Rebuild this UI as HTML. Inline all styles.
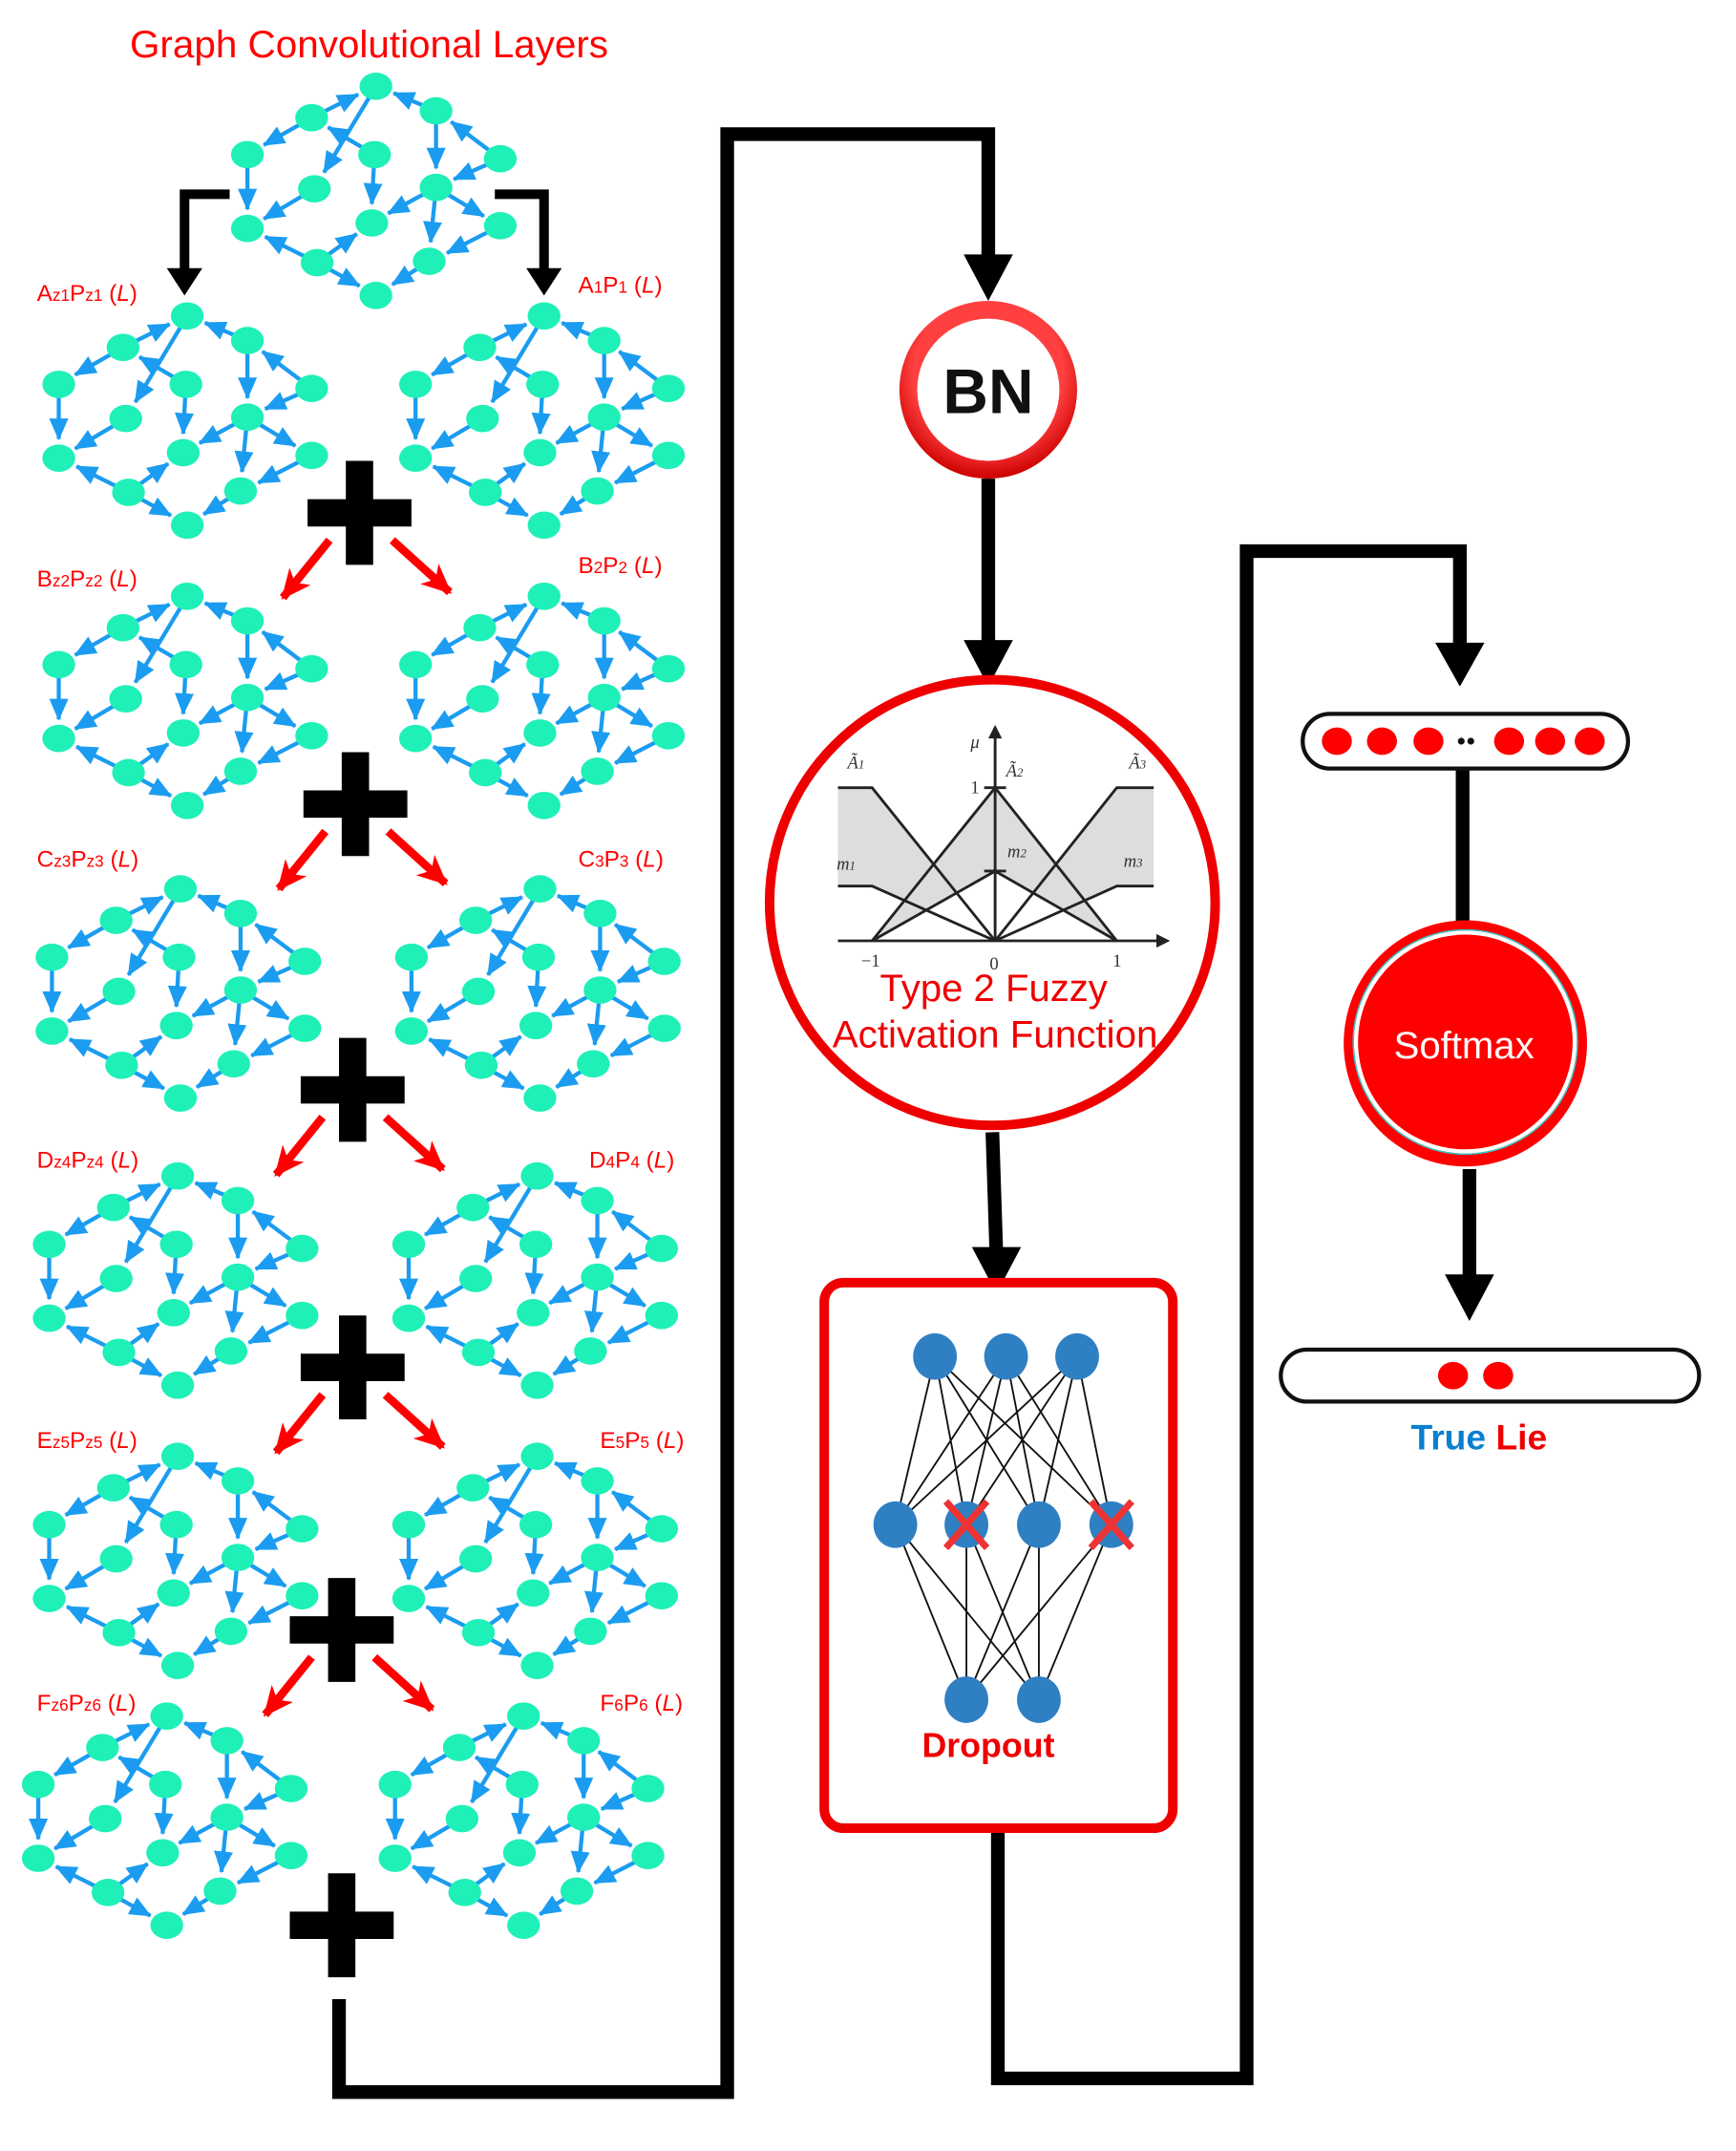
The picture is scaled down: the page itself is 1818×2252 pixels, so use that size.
<!DOCTYPE html>
<html><head><meta charset="utf-8"><style>html,body{margin:0;padding:0;background:#fff}svg{display:block}</style></head>
<body>
<svg width="1818" height="2252" viewBox="0 0 1270 1573" xmlns="http://www.w3.org/2000/svg" font-family="Liberation Sans, Arial, sans-serif">
<defs>
<marker id="ba" markerUnits="userSpaceOnUse" markerWidth="16" markerHeight="14" refX="15" refY="7" orient="auto"><path d="M0,0 L16,7 L0,14 Z" fill="#1b9cf0"/></marker>
<marker id="ra" markerUnits="userSpaceOnUse" markerWidth="22" markerHeight="20" refX="20" refY="10" orient="auto"><path d="M0,0 L22,10 L0,20 L6,10 Z" fill="#f00"/></marker>
<radialGradient id="bng" cx="0.5" cy="0.4" r="0.6"><stop offset="0.7" stop-color="#ff4040"/><stop offset="1" stop-color="#c00"/></radialGradient>
<g id="g">
<g stroke="#1b9cf0" stroke-width="3" marker-end="url(#ba)" fill="none">
<line x1="-47" y1="-54" x2="-13" y2="-71"/>
<line x1="-47" y1="-54" x2="-82" y2="-34"/>
<line x1="0" y1="-77" x2="-38" y2="-14"/>
<line x1="-1" y1="-27" x2="-35" y2="-47"/>
<line x1="44" y1="-59" x2="13" y2="-72"/>
<line x1="44" y1="-59" x2="44" y2="-17"/>
<line x1="91" y1="-24" x2="55" y2="-51"/>
<line x1="91" y1="-24" x2="57" y2="-9"/>
<line x1="-94" y1="-27" x2="-94" y2="13"/>
<line x1="-1" y1="-27" x2="-3" y2="9"/>
<line x1="-45" y1="-2" x2="-82" y2="20"/>
<line x1="44" y1="-3" x2="9" y2="16"/>
<line x1="44" y1="-3" x2="79" y2="18"/>
<line x1="44" y1="-3" x2="40" y2="37"/>
<line x1="91" y1="25" x2="52" y2="45"/>
<line x1="-43" y1="52" x2="-81" y2="33"/>
<line x1="-43" y1="52" x2="-14" y2="31"/>
<line x1="-43" y1="52" x2="-12" y2="69"/>
<line x1="39" y1="51" x2="12" y2="68"/>
</g>
<g fill="#1ef0b8">
<ellipse cx="0" cy="-77" rx="12" ry="10"/><ellipse cx="-47" cy="-54" rx="12" ry="10"/><ellipse cx="44" cy="-59" rx="12" ry="10"/>
<ellipse cx="-94" cy="-27" rx="12" ry="10"/><ellipse cx="-1" cy="-27" rx="12" ry="10"/><ellipse cx="91" cy="-24" rx="12" ry="10"/>
<ellipse cx="-45" cy="-2" rx="12" ry="10"/><ellipse cx="44" cy="-3" rx="12" ry="10"/><ellipse cx="-94" cy="27" rx="12" ry="10"/>
<ellipse cx="-3" cy="23" rx="12" ry="10"/><ellipse cx="91" cy="25" rx="12" ry="10"/><ellipse cx="-43" cy="52" rx="12" ry="10"/>
<ellipse cx="39" cy="51" rx="12" ry="10"/><ellipse cx="0" cy="76" rx="12" ry="10"/>
</g>
</g>
<path id="plus" d="M-10,-38 H10 V-10 H38 V10 H10 V38 H-10 V10 H-38 V-10 H-10 Z" fill="#000"/>
<g id="rar" stroke="#f00" stroke-width="6" marker-end="url(#ra)"><line x1="-22" y1="20" x2="-56" y2="62"/><line x1="24" y1="20" x2="66" y2="58"/></g>
</defs>

<text x="270" y="42" font-size="28" fill="#f00" text-anchor="middle" textLength="350" lengthAdjust="spacingAndGlyphs">Graph Convolutional Layers</text>
<use href="#g" x="275" y="140"/>
<path d="M168,142 H135 V200" stroke="#000" stroke-width="7" fill="none"/>
<path d="M122,196 L148,196 L135,216 Z" fill="#000"/>
<path d="M362,142 H398 V200" stroke="#000" stroke-width="7" fill="none"/>
<path d="M385,196 L411,196 L398,216 Z" fill="#000"/>

<g font-size="17" fill="#f00">
<text x="27" y="220">A<tspan font-size="12">z1</tspan>P<tspan font-size="12">z1</tspan> (<tspan font-style="italic">L</tspan>)</text>
<text x="423" y="214">A<tspan font-size="12">1</tspan>P<tspan font-size="12">1</tspan> (<tspan font-style="italic">L</tspan>)</text>
<text x="27" y="429">B<tspan font-size="12">z2</tspan>P<tspan font-size="12">z2</tspan> (<tspan font-style="italic">L</tspan>)</text>
<text x="423" y="419">B<tspan font-size="12">2</tspan>P<tspan font-size="12">2</tspan> (<tspan font-style="italic">L</tspan>)</text>
<text x="27" y="634">C<tspan font-size="12">z3</tspan>P<tspan font-size="12">z3</tspan> (<tspan font-style="italic">L</tspan>)</text>
<text x="423" y="634">C<tspan font-size="12">3</tspan>P<tspan font-size="12">3</tspan> (<tspan font-style="italic">L</tspan>)</text>
<text x="27" y="854">D<tspan font-size="12">z4</tspan>P<tspan font-size="12">z4</tspan> (<tspan font-style="italic">L</tspan>)</text>
<text x="431" y="854">D<tspan font-size="12">4</tspan>P<tspan font-size="12">4</tspan> (<tspan font-style="italic">L</tspan>)</text>
<text x="27" y="1059">E<tspan font-size="12">z5</tspan>P<tspan font-size="12">z5</tspan> (<tspan font-style="italic">L</tspan>)</text>
<text x="439" y="1059">E<tspan font-size="12">5</tspan>P<tspan font-size="12">5</tspan> (<tspan font-style="italic">L</tspan>)</text>
<text x="27" y="1251">F<tspan font-size="12">z6</tspan>P<tspan font-size="12">z6</tspan> (<tspan font-style="italic">L</tspan>)</text>
<text x="439" y="1251">F<tspan font-size="12">6</tspan>P<tspan font-size="12">6</tspan> (<tspan font-style="italic">L</tspan>)</text>
</g>

<use href="#g" x="137" y="308"/><use href="#g" x="398" y="308"/>
<use href="#g" x="137" y="513"/><use href="#g" x="398" y="513"/>
<use href="#g" x="132" y="727"/><use href="#g" x="395" y="727"/>
<use href="#g" x="130" y="937"/><use href="#g" x="393" y="937"/>
<use href="#g" x="130" y="1142"/><use href="#g" x="393" y="1142"/>
<use href="#g" x="122" y="1332"/><use href="#g" x="383" y="1332"/>

<use href="#plus" x="263" y="375"/><use href="#rar" x="263" y="375"/>
<use href="#plus" x="260" y="588"/><use href="#rar" x="260" y="588"/>
<use href="#plus" x="258" y="797"/><use href="#rar" x="258" y="797"/>
<use href="#plus" x="258" y="1000"/><use href="#rar" x="258" y="1000"/>
<use href="#plus" x="250" y="1192"/><use href="#rar" x="250" y="1192"/>
<use href="#plus" x="250" y="1408"/>

<g stroke="#000" stroke-width="10" fill="none">
<path d="M248,1462 V1530 H532 V98 H723 V195"/>
<path d="M723,350 V475"/>
<path d="M726,828 L729,920"/>
<path d="M730,1337 V1520 H912 V403 H1068 V478"/>
<path d="M1070,562 V675"/>
<path d="M1075,855 V940"/>
</g>
<g fill="#000">
<path d="M705,186 L741,186 L723,220 Z"/>
<path d="M705,468 L741,468 L723,502 Z"/>
<path d="M711,912 L747,912 L729,946 Z"/>
<path d="M1050,470 L1086,470 L1068,502 Z"/>
<path d="M1057,932 L1093,932 L1075,966 Z"/>
</g>

<circle cx="723" cy="285" r="65" fill="url(#bng)"/>
<circle cx="723" cy="285" r="52" fill="#fff"/>
<text x="723" y="302" font-size="46" font-weight="bold" fill="#111" text-anchor="middle">BN</text>

<circle cx="726" cy="660" r="163" fill="#fff" stroke="#e00" stroke-width="7"/>
<g>
<path d="M613,576 H638 L728,688 L638,648 H613 Z" fill="#ddd"/>
<path d="M844,576 H817 L728,688 L817,648 H844 Z" fill="#ddd"/>
<path d="M638,688 L728,576 L817,688 L728,637 Z" fill="#ddd"/>
<path d="M638,688 L728,637 L817,688 Z" fill="#fff"/>
<g stroke="#222" stroke-width="2" fill="none">
<path d="M613,576 H638 L728,688"/><path d="M613,648 H638 L728,688"/>
<path d="M638,688 L728,576 L817,688"/><path d="M638,688 L728,637 L817,688"/>
<path d="M844,576 H817 L728,688"/><path d="M844,648 H817 L728,688"/>
<path d="M613,688 H852"/><path d="M728,688 V534"/>
<path d="M720,576 H736"/><path d="M720,637 H736"/>
</g>
<path d="M846,683 L856,688 L846,693 Z" fill="#222"/>
<path d="M723,540 L728,530 L733,540 Z" fill="#222"/>
<g font-family="Liberation Serif, serif" font-size="13" fill="#333" font-style="italic">
<text x="710" y="547">μ</text><text x="620" y="562">Ã<tspan font-size="9">1</tspan></text>
<text x="736" y="568">Ã<tspan font-size="9">2</tspan></text><text x="826" y="562">Ã<tspan font-size="9">3</tspan></text>
<text x="612" y="636">m<tspan font-size="9">1</tspan></text><text x="737" y="627">m<tspan font-size="9">2</tspan></text>
<text x="822" y="634">m<tspan font-size="9">3</tspan></text>
</g>
<g font-family="Liberation Serif, serif" font-size="13" fill="#333">
<text x="710" y="580">1</text><text x="630" y="707">−1</text><text x="724" y="709">0</text><text x="814" y="707">1</text>
</g>
</g>
<text x="727" y="732" font-size="28" fill="#e00" text-anchor="middle">Type 2 Fuzzy</text>
<text x="728" y="766" font-size="28" fill="#e00" text-anchor="middle" textLength="238" lengthAdjust="spacingAndGlyphs">Activation Function</text>

<rect x="603" y="938" width="255" height="399" rx="14" fill="#fff" stroke="#e00" stroke-width="7"/>
<g stroke="#111" stroke-width="1.3">
<path d="M684,992 L655,1115 M684,992 L707,1115 M684,992 L760,1115 M684,992 L813,1115
M736,992 L655,1115 M736,992 L707,1115 M736,992 L760,1115 M736,992 L813,1115
M788,992 L655,1115 M788,992 L707,1115 M788,992 L760,1115 M788,992 L813,1115
M655,1115 L707,1243 M655,1115 L760,1243 M707,1115 L707,1243 M707,1115 L760,1243
M760,1115 L707,1243 M760,1115 L760,1243 M813,1115 L707,1243 M813,1115 L760,1243"/>
</g>
<g fill="#2f7fc3">
<ellipse cx="684" cy="992" rx="16" ry="17"/><ellipse cx="736" cy="992" rx="16" ry="17"/><ellipse cx="788" cy="992" rx="16" ry="17"/>
<ellipse cx="655" cy="1115" rx="16" ry="17"/><ellipse cx="707" cy="1115" rx="16" ry="17"/><ellipse cx="760" cy="1115" rx="16" ry="17"/><ellipse cx="813" cy="1115" rx="16" ry="17"/>
<ellipse cx="707" cy="1243" rx="16" ry="17"/><ellipse cx="760" cy="1243" rx="16" ry="17"/>
</g>
<g stroke="#e33" stroke-width="5">
<path d="M692,1098 L722,1132 M722,1098 L692,1132"/><path d="M798,1098 L828,1132 M828,1098 L798,1132"/>
</g>
<text x="723" y="1285" font-size="25" font-weight="bold" fill="#e00" text-anchor="middle">Dropout</text>

<rect x="953" y="522" width="238" height="40" rx="20" fill="#fff" stroke="#111" stroke-width="3"/>
<g fill="#f00">
<ellipse cx="978" cy="542" rx="11" ry="10"/><ellipse cx="1011" cy="542" rx="11" ry="10"/><ellipse cx="1045" cy="542" rx="11" ry="10"/>
<ellipse cx="1104" cy="542" rx="11" ry="10"/><ellipse cx="1134" cy="542" rx="11" ry="10"/><ellipse cx="1163" cy="542" rx="11" ry="10"/>
</g>
<circle cx="1069" cy="542" r="2.5" fill="#111"/><circle cx="1076" cy="542" r="2.5" fill="#111"/>

<ellipse cx="1072" cy="763" rx="89" ry="90" fill="#f00"/>
<ellipse cx="1072" cy="762" rx="80" ry="80" fill="none" stroke="#fff" stroke-width="3"/>
<ellipse cx="1072" cy="762" rx="82" ry="82" fill="none" stroke="#3cc" stroke-width="1"/>
<text x="1071" y="774" font-size="28" fill="#fff" text-anchor="middle">Softmax</text>

<rect x="937" y="987" width="306" height="38" rx="19" fill="#fff" stroke="#111" stroke-width="3"/>
<ellipse cx="1063" cy="1006" rx="11" ry="10" fill="#f00"/><ellipse cx="1096" cy="1006" rx="11" ry="10" fill="#f00"/>
<text x="1082" y="1060" font-size="26" font-weight="bold" text-anchor="middle"><tspan fill="#0a7fd0">True</tspan> <tspan fill="#e00">Lie</tspan></text>
</svg>
</body></html>
